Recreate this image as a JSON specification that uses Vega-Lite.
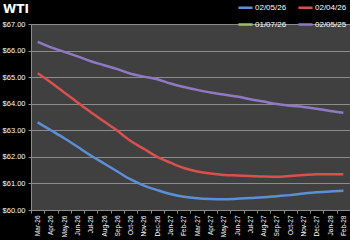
{
  "$schema": "https://vega.github.io/schema/vega-lite/v6.json",
  "autosize": "none",
  "width": 319,
  "height": 186,
  "padding": {"left": 31, "top": 24, "right": 0, "bottom": 30},
  "background": "#000000",
  "config": {
    "view": {"fill": "#404040", "stroke": null},
    "font": "Liberation Sans"
  },
  "title": {
    "text": "WTI",
    "anchor": "start",
    "frame": "group",
    "dx": -28,
    "offset": -17,
    "fontSize": 12,
    "fontWeight": "bold",
    "color": "#ffffff",
    "font": "DejaVu Sans"
  },
  "data": {
    "values": [
      {"month": "Mar-26", "series": "02/05/26", "price": 63.30},
      {"month": "Apr-26", "series": "02/05/26", "price": 63.00},
      {"month": "May-26", "series": "02/05/26", "price": 62.70},
      {"month": "Jun-26", "series": "02/05/26", "price": 62.38},
      {"month": "Jul-26", "series": "02/05/26", "price": 62.05},
      {"month": "Aug-26", "series": "02/05/26", "price": 61.75},
      {"month": "Sep-26", "series": "02/05/26", "price": 61.45},
      {"month": "Oct-26", "series": "02/05/26", "price": 61.15},
      {"month": "Nov-26", "series": "02/05/26", "price": 60.92},
      {"month": "Dec-26", "series": "02/05/26", "price": 60.75},
      {"month": "Jan-27", "series": "02/05/26", "price": 60.60},
      {"month": "Feb-27", "series": "02/05/26", "price": 60.50},
      {"month": "Mar-27", "series": "02/05/26", "price": 60.44},
      {"month": "Apr-27", "series": "02/05/26", "price": 60.41},
      {"month": "May-27", "series": "02/05/26", "price": 60.40},
      {"month": "Jun-27", "series": "02/05/26", "price": 60.42},
      {"month": "Jul-27", "series": "02/05/26", "price": 60.45},
      {"month": "Aug-27", "series": "02/05/26", "price": 60.48},
      {"month": "Sep-27", "series": "02/05/26", "price": 60.52},
      {"month": "Oct-27", "series": "02/05/26", "price": 60.56},
      {"month": "Nov-27", "series": "02/05/26", "price": 60.62},
      {"month": "Dec-27", "series": "02/05/26", "price": 60.67},
      {"month": "Jan-28", "series": "02/05/26", "price": 60.70},
      {"month": "Feb-28", "series": "02/05/26", "price": 60.72},
      {"month": "Mar-26", "series": "02/04/26", "price": 65.15},
      {"month": "Apr-26", "series": "02/04/26", "price": 64.80},
      {"month": "May-26", "series": "02/04/26", "price": 64.42},
      {"month": "Jun-26", "series": "02/04/26", "price": 64.05},
      {"month": "Jul-26", "series": "02/04/26", "price": 63.68},
      {"month": "Aug-26", "series": "02/04/26", "price": 63.33},
      {"month": "Sep-26", "series": "02/04/26", "price": 62.98},
      {"month": "Oct-26", "series": "02/04/26", "price": 62.60},
      {"month": "Nov-26", "series": "02/04/26", "price": 62.30},
      {"month": "Dec-26", "series": "02/04/26", "price": 62.00},
      {"month": "Jan-27", "series": "02/04/26", "price": 61.78},
      {"month": "Feb-27", "series": "02/04/26", "price": 61.58},
      {"month": "Mar-27", "series": "02/04/26", "price": 61.45},
      {"month": "Apr-27", "series": "02/04/26", "price": 61.37},
      {"month": "May-27", "series": "02/04/26", "price": 61.32},
      {"month": "Jun-27", "series": "02/04/26", "price": 61.30},
      {"month": "Jul-27", "series": "02/04/26", "price": 61.28},
      {"month": "Aug-27", "series": "02/04/26", "price": 61.26},
      {"month": "Sep-27", "series": "02/04/26", "price": 61.25},
      {"month": "Oct-27", "series": "02/04/26", "price": 61.28},
      {"month": "Nov-27", "series": "02/04/26", "price": 61.32},
      {"month": "Dec-27", "series": "02/04/26", "price": 61.35},
      {"month": "Jan-28", "series": "02/04/26", "price": 61.35},
      {"month": "Feb-28", "series": "02/04/26", "price": 61.35},
      {"month": "Mar-26", "series": "02/05/25", "price": 66.33},
      {"month": "Apr-26", "series": "02/05/25", "price": 66.12},
      {"month": "May-26", "series": "02/05/25", "price": 65.95},
      {"month": "Jun-26", "series": "02/05/25", "price": 65.78},
      {"month": "Jul-26", "series": "02/05/25", "price": 65.60},
      {"month": "Aug-26", "series": "02/05/25", "price": 65.45},
      {"month": "Sep-26", "series": "02/05/25", "price": 65.30},
      {"month": "Oct-26", "series": "02/05/25", "price": 65.13},
      {"month": "Nov-26", "series": "02/05/25", "price": 65.02},
      {"month": "Dec-26", "series": "02/05/25", "price": 64.92},
      {"month": "Jan-27", "series": "02/05/25", "price": 64.76},
      {"month": "Feb-27", "series": "02/05/25", "price": 64.63},
      {"month": "Mar-27", "series": "02/05/25", "price": 64.52},
      {"month": "Apr-27", "series": "02/05/25", "price": 64.42},
      {"month": "May-27", "series": "02/05/25", "price": 64.35},
      {"month": "Jun-27", "series": "02/05/25", "price": 64.27},
      {"month": "Jul-27", "series": "02/05/25", "price": 64.17},
      {"month": "Aug-27", "series": "02/05/25", "price": 64.08},
      {"month": "Sep-27", "series": "02/05/25", "price": 63.99},
      {"month": "Oct-27", "series": "02/05/25", "price": 63.92},
      {"month": "Nov-27", "series": "02/05/25", "price": 63.88},
      {"month": "Dec-27", "series": "02/05/25", "price": 63.81},
      {"month": "Jan-28", "series": "02/05/25", "price": 63.73},
      {"month": "Feb-28", "series": "02/05/25", "price": 63.66}
    ]
  },
  "mark": {"type": "line", "interpolate": "monotone", "strokeWidth": 2.5},
  "encoding": {
    "x": {
      "field": "month",
      "type": "ordinal",
      "sort": null,
      "scale": {"paddingInner": 0, "paddingOuter": 0},
      "axis": {
        "title": null,
        "labelAngle": -90,
        "labelAlign": "right",
        "labelBaseline": "middle",
        "labelFontSize": 6.5,
        "labelColor": "#ffffff",
        "labelPadding": 2,
        "tickBand": "extent",
        "tickColor": "#8c8c8c",
        "tickSize": 3,
        "domainColor": "#8c8c8c",
        "grid": false
      }
    },
    "y": {
      "field": "price",
      "type": "quantitative",
      "scale": {"domain": [60, 67], "nice": false, "zero": false},
      "axis": {
        "title": null,
        "values": [60, 61, 62, 63, 64, 65, 66, 67],
        "format": "$.2f",
        "labelFontSize": 7.5,
        "labelColor": "#ffffff",
        "labelPadding": 3,
        "ticks": true,
        "tickSize": 3,
        "tickColor": "#8c8c8c",
        "domainColor": "#8c8c8c",
        "gridColor": "#8c8c8c",
        "gridWidth": 1
      }
    },
    "color": {
      "field": "series",
      "type": "nominal",
      "scale": {
        "domain": ["02/05/26", "01/07/26", "02/04/26", "02/05/25"],
        "range": ["#5b8fd6", "#9bc55a", "#d9504e", "#9178c4"]
      },
      "legend": {
        "title": null,
        "orient": "none",
        "legendX": 206,
        "legendY": -25,
        "columns": 2,
        "columnPadding": 6,
        "rowPadding": 3,
        "symbolType": "stroke",
        "symbolSize": 200,
        "symbolStrokeWidth": 2.5,
        "labelColor": "#ffffff",
        "labelFontSize": 8,
        "labelOffset": 1
      }
    }
  }
}
